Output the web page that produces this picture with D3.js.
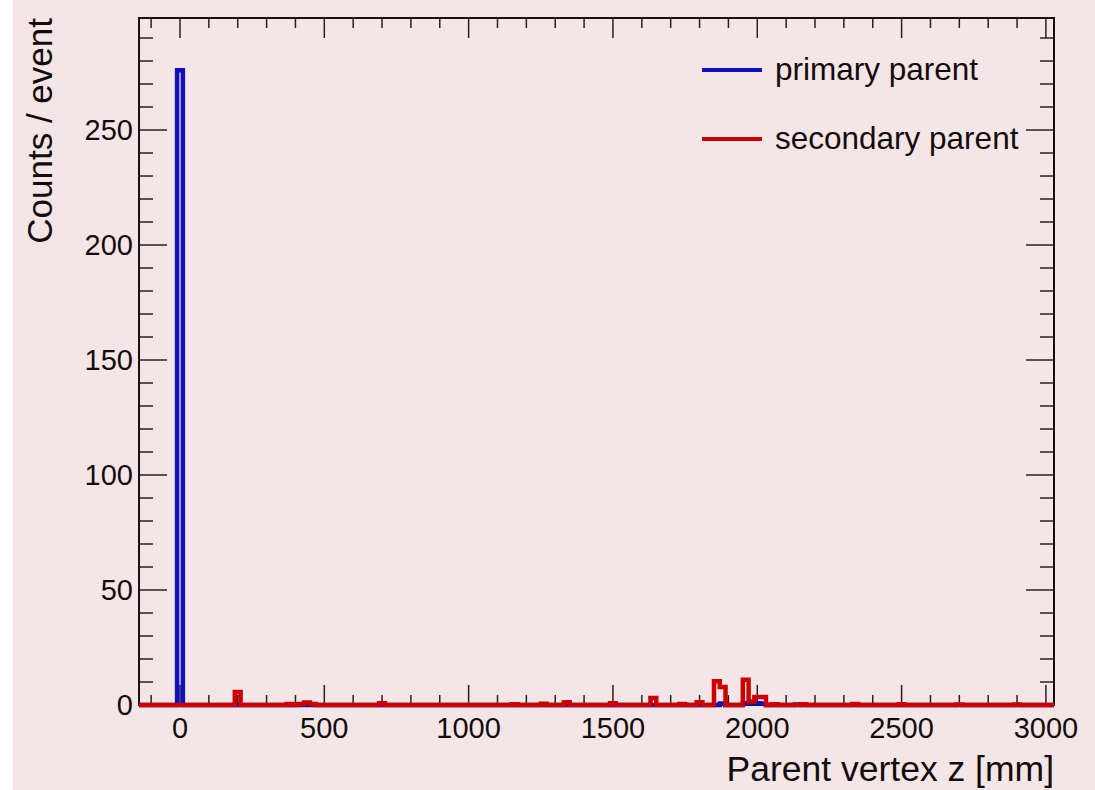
<!DOCTYPE html>
<html><head><meta charset="utf-8">
<script src="https://cdn.jsdelivr.net/npm/d3@7"></script>
<style>body{margin:0;background:#fff;} svg{display:block;}</style>
</head><body>
<script>
// ---- data ----
const binWidth = 20;
const histRange = [-150, 3050];          // histogram bin edges range
const xDomain = [-142, 3028];
const yDomain = [0, 298.7];
const xMajorTicks = [0, 500, 1000, 1500, 2000, 2500, 3000];
const yMajorTicks = [0, 50, 100, 150, 200, 250];
// non-empty bins: low edge (mm) -> counts/event
const primaryLow =    [-10, 1870, 1950, 1970, 1990, 2010, 2130];
const primaryVals =   [276, 0.6, 0.8, 1.0, 0.8, 0.5, 0.2];
const secondaryLow =  [190, 370, 410, 430, 450, 690, 1150, 1250, 1330, 1490, 1630, 1730, 1790, 1850, 1870, 1950, 1970, 1990, 2010, 2050, 2150, 2330, 2490, 2690, 2890];
const secondaryVals = [5.6, 0.4, 0.4, 1.1, 0.4, 0.8, 0.3, 0.5, 1.2, 0.8, 3.0, 0.4, 1.2, 10.3, 7.8, 11.0, 1.5, 3.5, 3.5, 0.3, 0.3, 0.4, 0.3, 0.2, 0.2];
const seriesNames = ["primary parent", "secondary parent"];
const seriesColors = ["#1010c0", "#cc0000"];

// ---- layout ----
const W = 1095, H = 790;
const L = 139, R = 1054, T = 18, B = 705;
const svg = d3.select("body").append("svg").attr("width", W).attr("height", H);
svg.append("rect").attr("x", 13).attr("y", 0).attr("width", W - 13).attr("height", H).attr("fill", "#f4e6e6");

const x = d3.scaleLinear().domain(xDomain).range([L, R]);
const y = d3.scaleLinear().domain(yDomain).range([B, T]);

svg.append("defs").append("clipPath").attr("id", "clip")
  .append("rect").attr("x", L).attr("y", T - 5).attr("width", R - L).attr("height", B - T + 10);

function buildBins(lows, vals) {
  const n = Math.round((histRange[1] - histRange[0]) / binWidth);
  const arr = [];
  for (let i = 0; i < n; i++) arr.push({x0: histRange[0] + i * binWidth, v: 0});
  lows.forEach((lo, k) => {
    const i = Math.round((lo - histRange[0]) / binWidth);
    if (i >= 0 && i < n) arr[i].v = vals[k];
  });
  return arr;
}
function stepPath(bins) {
  const pts = [];
  bins.forEach(b => { pts.push([x(b.x0), y(b.v)]); pts.push([x(b.x0 + binWidth), y(b.v)]); });
  return d3.line()(pts);
}

// ---- axes (ROOT style ticks on all sides) ----
const tickColor = "#2a1e1e";
const xMinor = d3.range(-100, 3001, 100).filter(v => v >= xDomain[0] && v <= xDomain[1]);
const yMinor = d3.range(0, 291, 10);
const axG = svg.append("g").attr("stroke", tickColor).attr("stroke-width", 1.5);
xMinor.forEach(v => {
  const major = xMajorTicks.includes(v);
  const len = major ? 20 : 10;
  axG.append("line").attr("x1", x(v)).attr("x2", x(v)).attr("y1", B).attr("y2", B - len);
  axG.append("line").attr("x1", x(v)).attr("x2", x(v)).attr("y1", T).attr("y2", T + len);
});
yMinor.forEach(v => {
  const major = yMajorTicks.includes(v);
  const len = major ? 28 : 14;
  axG.append("line").attr("y1", y(v)).attr("y2", y(v)).attr("x1", L).attr("x2", L + len);
  axG.append("line").attr("y1", y(v)).attr("y2", y(v)).attr("x1", R).attr("x2", R - len);
});
svg.append("rect").attr("x", L).attr("y", T).attr("width", R - L).attr("height", B - T)
  .attr("fill", "none").attr("stroke", "#1a1010").attr("stroke-width", 2);

const g = svg.append("g").attr("clip-path", "url(#clip)");
[[primaryLow, primaryVals], [secondaryLow, secondaryVals]].forEach((s, i) => {
  g.append("path").attr("d", stepPath(buildBins(s[0], s[1])))
    .attr("fill", "none").attr("stroke", seriesColors[i]).attr("stroke-width", 4.5)
    .attr("stroke-linejoin", "miter");
});

const font = "'Liberation Sans', Arial, Helvetica, sans-serif";
const txtColor = "#140c0c";
xMajorTicks.forEach(v => {
  svg.append("text").attr("x", x(v)).attr("y", 738).attr("text-anchor", "middle")
    .attr("font-family", font).attr("font-size", 29).attr("fill", txtColor).text(v);
});
yMajorTicks.forEach(v => {
  svg.append("text").attr("x", 133).attr("y", y(v) + 10).attr("text-anchor", "end")
    .attr("font-family", font).attr("font-size", 29).attr("fill", txtColor).text(v);
});
svg.append("text").attr("x", R).attr("y", 781).attr("text-anchor", "end")
  .attr("font-family", font).attr("font-size", 35.5).attr("fill", txtColor).text("Parent vertex z [mm]");
svg.append("text").attr("transform", `translate(52,${T}) rotate(-90)`).attr("text-anchor", "end")
  .attr("font-family", font).attr("font-size", 35).attr("fill", txtColor).text("Counts / event");

// ---- legend ----
const legY = [70, 139];
seriesNames.forEach((name, i) => {
  svg.append("line").attr("x1", 702).attr("x2", 762).attr("y1", legY[i]).attr("y2", legY[i])
    .attr("stroke", seriesColors[i]).attr("stroke-width", 4);
  svg.append("text").attr("x", 775).attr("y", legY[i] + 10)
    .attr("font-family", font).attr("font-size", 31.5).attr("fill", txtColor).text(name);
});
</script>
</body></html>
